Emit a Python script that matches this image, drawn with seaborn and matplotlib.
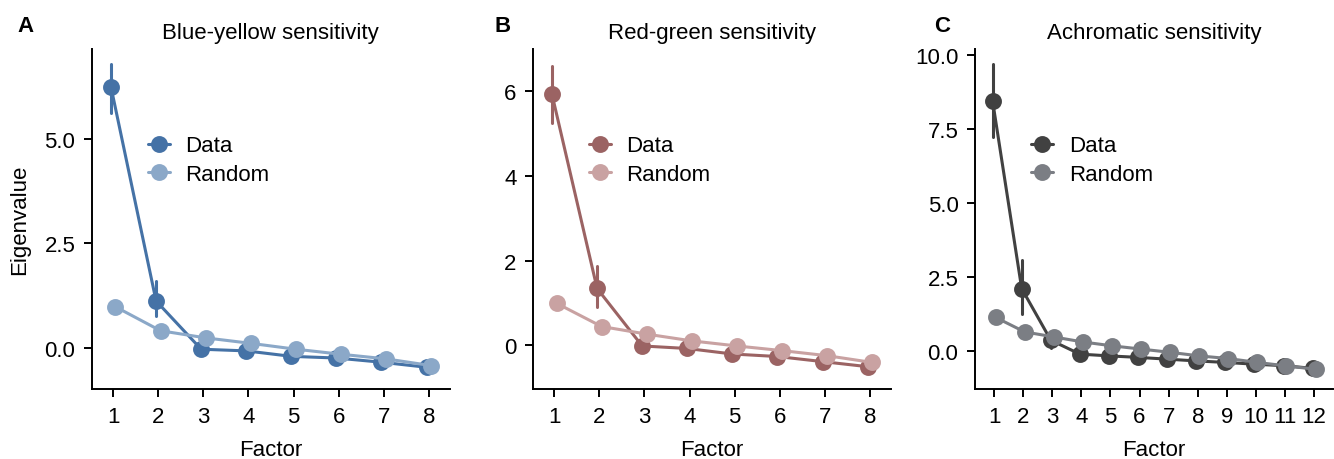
import matplotlib
matplotlib.use("Agg")
from matplotlib import pyplot as plt
import seaborn as sns
import pandas as pd

# Panel A: blue-yellow
by_factors = [1, 2, 3, 4, 5, 6, 7, 8]
by_data = [6.23, 1.13, -0.02, -0.06, -0.19, -0.23, -0.33, -0.45]
by_lo = [5.60, 0.78, -0.06, -0.10, -0.23, -0.27, -0.40, -0.52]
by_hi = [6.77, 1.60, 0.02, -0.02, -0.15, -0.19, -0.26, -0.38]
by_random = [0.99, 0.42, 0.25, 0.12, -0.02, -0.14, -0.25, -0.41]

# Panel B: red-green
rg_factors = [1, 2, 3, 4, 5, 6, 7, 8]
rg_data = [5.93, 1.34, -0.02, -0.08, -0.21, -0.27, -0.39, -0.51]
rg_lo = [5.25, 0.89, -0.06, -0.12, -0.25, -0.31, -0.44, -0.57]
rg_hi = [6.60, 1.87, 0.02, -0.04, -0.17, -0.23, -0.34, -0.45]
rg_random = [0.99, 0.44, 0.26, 0.10, -0.02, -0.13, -0.25, -0.41]

# Panel C: achromatic
ac_factors = [1, 2, 3, 4, 5, 6, 7, 8, 9, 10, 11, 12]
ac_data = [8.45, 2.12, 0.38, -0.09, -0.15, -0.20, -0.26, -0.32, -0.37, -0.43, -0.48, -0.57]
ac_lo = [7.24, 1.26, 0.13, -0.13, -0.19, -0.25, -0.32, -0.39, -0.45, -0.52, -0.60, -0.72]
ac_hi = [9.69, 3.09, 0.64, -0.05, -0.11, -0.15, -0.20, -0.25, -0.29, -0.34, -0.36, -0.42]
ac_random = [1.15, 0.66, 0.49, 0.32, 0.19, 0.08, -0.03, -0.15, -0.24, -0.37, -0.49, -0.60]

titles = ["Blue-yellow sensitivity", "Red-green sensitivity", "Achromatic sensitivity"]
letters = ["A", "B", "C"]
palettes = [["#4572a6", "#8ba8c8"], ["#9b6363", "#c9a2a2"], ["#414141", "#7b7e84"]]


def long_table(factors, data, lo, hi, random):
    # three rows per point: lower, estimate, upper -> median + min/max interval
    rows = []
    for f, d, l, h, r in zip(factors, data, lo, hi, random):
        for v in (l, d, h):
            rows.append({"Factor": f, "Eigenvalue": v, "Source": "Data"})
        for v in (r, r, r):
            rows.append({"Factor": f, "Eigenvalue": v, "Source": "Random"})
    return pd.DataFrame(rows)


panels = [
    long_table(by_factors, by_data, by_lo, by_hi, by_random),
    long_table(rg_factors, rg_data, rg_lo, rg_hi, rg_random),
    long_table(ac_factors, ac_data, ac_lo, ac_hi, ac_random),
]

sns.set_theme(style="ticks")
plt.rcParams["font.family"] = ["Liberation Sans", "DejaVu Sans"]
plt.rcParams.update({
    "axes.linewidth": 1.4,
    "axes.edgecolor": "black",
    "text.color": "black",
    "axes.labelcolor": "black",
    "xtick.color": "black",
    "ytick.color": "black",
})

fig = plt.figure(figsize=(13.34, 4.6), dpi=100)
lefts = [0.069, 0.3996, 0.731]
letter_x = [0.013, 0.371, 0.700]
ylims = [(-0.97, 7.13), (-1.04, 7.0), (-1.27, 10.2)]
yticks = [[0.0, 2.5, 5.0], [0, 2, 4, 6], [0.0, 2.5, 5.0, 7.5, 10.0]]
xlims = [(-0.47, 7.46), (-0.47, 7.46), (-0.65, 11.64)]

for i, df in enumerate(panels):
    ax = fig.add_axes([lefts[i], 0.152, 0.268, 0.739])
    sns.pointplot(data=df, x="Factor", y="Eigenvalue", hue="Source",
                  hue_order=["Data", "Random"], palette=palettes[i],
                  estimator="median", errorbar=lambda x: (x.min(), x.max()),
                  dodge=0.1, markersize=10.5, linewidth=2.2,
                  err_kws={"linewidth": 2.2}, ax=ax)
    sns.despine(ax=ax)
    ax.set_ylim(*ylims[i])
    ax.set_xlim(*xlims[i])
    ax.set_yticks(yticks[i])
    if i == 1:
        ax.set_yticklabels([str(t) for t in yticks[i]])
    else:
        ax.set_yticklabels([f"{t:.1f}" for t in yticks[i]])
    ax.tick_params(labelsize=16, width=1.4, length=6, pad=6)
    ax.set_xlabel("Factor", fontsize=16, labelpad=9)
    ax.set_ylabel("Eigenvalue" if i == 0 else "", fontsize=16, labelpad=10)
    ax.set_title(titles[i], fontsize=16, pad=8)
    ax.legend(frameon=False, fontsize=16, loc="upper left",
              bbox_to_anchor=(0.1, 0.805), handlelength=1.0, labelspacing=0.35,
              handletextpad=0.7)
    fig.text(letter_x[i], 0.93, letters[i], fontsize=16, fontweight="bold")

fig.savefig("out.png", dpi=100)
